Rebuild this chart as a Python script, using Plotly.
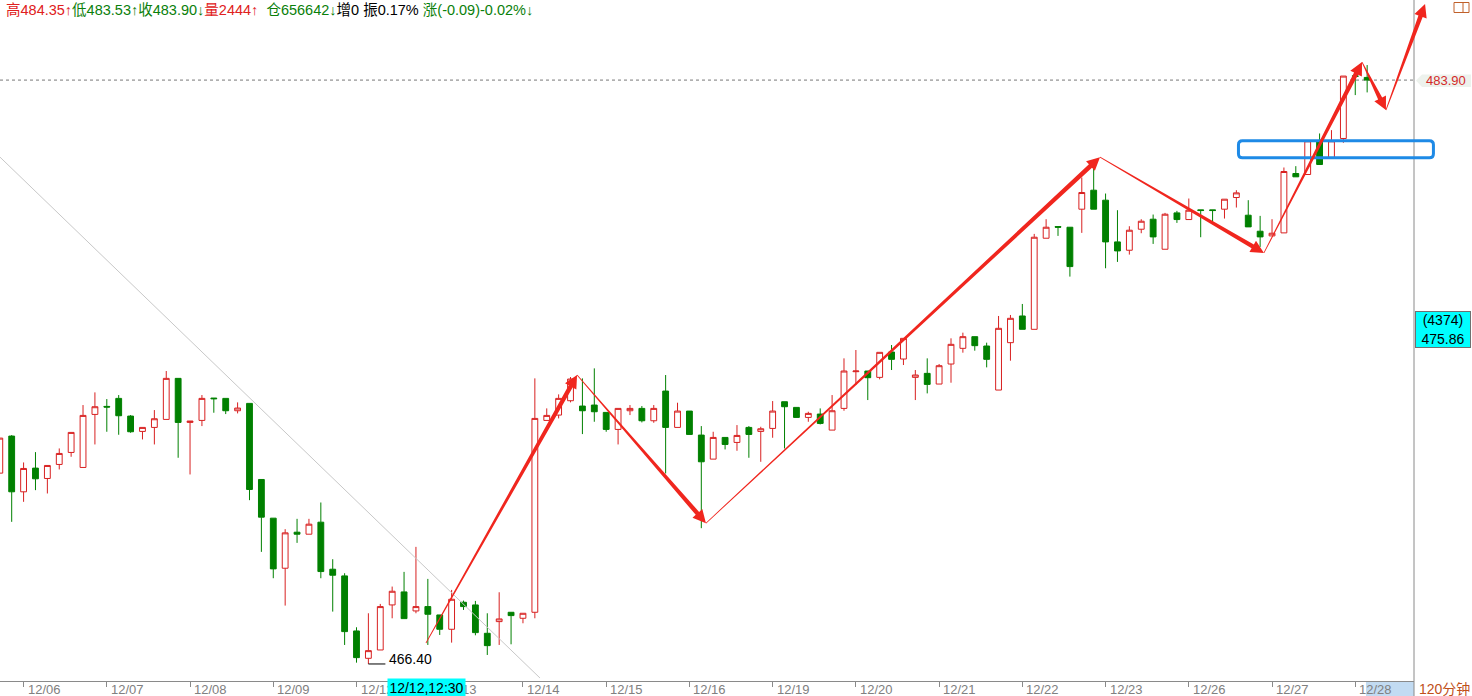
import math
import plotly.graph_objects as go

# ---------------- data ----------------
opens = [472.12, 473.23, 471.56, 472.27, 471.96, 472.38, 472.74, 472.29, 473.88, 474.12,
         474.36, 473.83, 473.37, 473.49, 473.73, 474.96, 473.64, 473.70, 474.37, 474.36,
         473.99, 474.21, 471.93, 470.77, 469.27, 470.35, 470.29, 470.65, 469.24, 469.04,
         467.39, 466.57, 466.82, 468.17, 468.56, 467.99, 468.12, 467.87, 467.44, 468.25,
         468.17, 467.32, 467.67, 467.95, 467.77, 467.95, 473.70, 473.86, 474.29, 474.13,
         474.16, 473.94, 473.43, 473.99, 474.06, 473.69, 474.58, 473.49, 473.98, 473.26,
         472.54, 473.19, 473.04, 473.49, 473.37, 473.46, 474.26, 474.09, 473.79, 473.89,
         473.41, 474.06, 475.16, 475.18, 474.99, 475.75, 475.54, 474.99, 475.11, 474.79,
         475.39, 475.86, 476.21, 475.93, 474.61, 476.03, 476.83, 476.43, 479.16, 479.51,
         479.49, 480.03, 480.60, 480.30, 479.05, 478.80, 479.43, 479.73, 478.83, 479.92,
         479.72, 480.01, 480.01, 480.03, 480.38, 479.85, 479.37, 479.23, 479.32, 481.10,
         481.07, 482.08, 481.58, 482.15, 484.03, 483.98]
highs = [473.17, 473.26, 472.44, 472.75, 472.35, 472.86, 473.34, 474.16, 474.54, 474.34,
         474.46, 473.86, 473.49, 474.01, 475.18, 474.96, 473.68, 474.46, 474.37, 474.36,
         474.24, 474.21, 471.93, 470.77, 470.44, 470.75, 470.75, 471.24, 469.54, 469.12,
         467.50, 467.92, 468.20, 468.72, 469.16, 469.91, 468.95, 467.87, 468.62, 468.30,
         468.29, 467.92, 468.55, 467.95, 467.92, 474.96, 474.06, 474.48, 475.00, 474.96,
         475.26, 473.94, 474.06, 474.16, 474.13, 474.16, 475.06, 474.23, 473.98, 473.53,
         473.36, 473.19, 473.56, 473.53, 473.51, 474.28, 474.26, 474.09, 473.96, 474.06,
         474.46, 475.56, 475.81, 475.18, 475.74, 475.96, 476.16, 475.21, 475.56, 475.39,
         476.16, 476.33, 476.21, 476.03, 476.83, 476.86, 477.19, 479.29, 479.73, 479.51,
         479.49, 480.98, 481.45, 480.50, 480.00, 479.52, 479.73, 479.87, 479.92, 479.98,
         480.35, 480.01, 480.01, 480.33, 480.60, 480.30, 479.83, 479.73, 481.28, 481.32,
         482.10, 482.30, 482.40, 484.02, 484.03, 484.35]
lows = [472.12, 470.66, 471.26, 471.61, 471.51, 472.23, 472.61, 472.29, 472.98, 473.36,
        473.27, 473.33, 473.13, 472.98, 473.73, 472.58, 472.08, 473.53, 473.93, 473.89,
        473.91, 471.31, 469.76, 468.97, 468.15, 470.03, 470.29, 468.97, 467.97, 466.97,
        466.44, 466.40, 466.82, 467.77, 467.76, 467.92, 466.97, 467.27, 467.04, 468.02,
        467.26, 466.67, 466.97, 466.99, 467.62, 467.77, 473.70, 473.76, 474.24, 473.29,
        473.66, 473.36, 472.98, 473.86, 473.64, 473.63, 472.11, 473.49, 473.28, 470.47,
        472.54, 472.83, 472.79, 472.58, 472.46, 473.18, 472.86, 473.79, 473.66, 473.58,
        473.41, 473.99, 474.76, 474.31, 474.93, 475.21, 475.36, 474.31, 474.51, 474.79,
        474.83, 475.73, 475.79, 475.29, 474.61, 475.49, 476.43, 476.43, 479.16, 479.23,
        478.01, 479.32, 480.03, 478.26, 478.45, 478.67, 479.31, 478.99, 478.83, 479.62,
        479.72, 479.19, 479.65, 479.75, 480.08, 479.50, 478.90, 479.23, 479.32, 481.00,
        481.07, 481.37, 481.58, 482.02, 483.45, 483.53]
closes = [473.17, 471.56, 472.26, 471.95, 472.35, 472.71, 473.34, 473.85, 474.11, 474.10,
          473.84, 473.36, 473.49, 473.75, 474.96, 473.64, 473.68, 474.36, 474.35, 473.99,
          474.07, 471.63, 470.80, 469.25, 470.33, 470.29, 470.59, 469.17, 469.06, 467.37,
          466.59, 466.80, 468.12, 468.58, 467.76, 468.12, 467.89, 467.44, 468.34, 468.12,
          467.34, 466.95, 467.75, 467.85, 467.92, 473.76, 473.85, 474.36, 474.94, 473.99,
          473.96, 473.43, 474.06, 474.06, 473.69, 474.06, 473.49, 473.98, 473.28, 472.46,
          473.19, 472.98, 473.25, 473.28, 473.45, 473.98, 474.11, 473.79, 473.91, 473.61,
          473.99, 475.18, 475.18, 474.98, 475.74, 475.53, 476.16, 475.06, 474.78, 475.34,
          475.98, 476.21, 475.94, 475.53, 476.46, 476.76, 476.43, 479.19, 479.49, 479.49,
          478.31, 480.53, 480.03, 479.05, 478.78, 479.40, 479.67, 479.20, 479.88, 479.72,
          480.00, 479.99, 479.99, 480.33, 480.52, 479.50, 479.20, 479.31, 481.16, 481.00,
          482.08, 481.37, 482.08, 484.02, 484.01, 483.90]
bar_index = list(range(len(closes)))

day_labels = ["12/06", "12/07", "12/08", "12/09", "12/12", "12/13", "12/14", "12/15", "12/16",
              "12/19", "12/20", "12/21", "12/22", "12/23", "12/26", "12/27", "12/28"]
day_first_bar = [2, 9, 16, 23, 30, 37, 44, 51, 58, 65, 72, 79, 86, 93, 100, 107, 114]

header_high, header_low, header_close = "484.35", "483.53", "483.90"
header_vol, header_oi, header_inc = "2444", "656642", "0"
header_amp, header_chg = "0.17%", "(-0.09)-0.02%"
last_price = 483.90
low_bar, low_price = 31, 466.40
cursor_time = "12/12,12:30"
cursor_count, cursor_price = "(4374)", "475.86"
period_label = "120分钟"

# hand-drawn zigzag arrows (bar index, price) of their vertices
zig_bar = [35.84, 48.55, 59.39, 92.53, 106.32, 114.57, 116.58, 119.87]
zig_price = [467.03, 475.06, 470.62, 481.59, 478.72, 484.44, 483.00, 486.18]
# thin gray trend line (bar index, price)
trend_bar = [0.02, 45.43]
trend_price = [481.59, 465.98]
# blue box (bar index range, price range)
box_bar = [104.05, 120.70]
box_price = [482.13, 481.53]

# ---------------- layout geometry ----------------
W, H = 1472, 696
PW, PH = 1414, 681          # plot area size (left=0, top=0)
X_RANGE = [0.0168, 118.94]
Y_RANGE = [465.89, 486.30]

RED = "#d82020"
GREEN = "#008000"
ARROW = "#f0261e"
FONT = "Liberation Sans, Arial, Noto Sans CJK SC, sans-serif"


def to_px(i, p):
    x = (i - X_RANGE[0]) / (X_RANGE[1] - X_RANGE[0]) * PW
    y = (Y_RANGE[1] - p) / (Y_RANGE[1] - Y_RANGE[0]) * PH
    return x, y


def pp(x, y):
    """pixel -> paper"""
    return x / PW, (PH - y) / PH


def path_from_px(points, close=True):
    parts = []
    for k, (x, y) in enumerate(points):
        a, b = pp(x, y)
        parts.append(("M" if k == 0 else "L") + f"{a:.6f},{b:.6f}")
    return " ".join(parts) + (" Z" if close else "")


def tapered_arrow(x0, y0, x1, y1, w0=0.8, w1=4.5, hl=13.0, hw=6.5):
    dx, dy = x1 - x0, y1 - y0
    L = math.hypot(dx, dy)
    ux, uy = dx / L, dy / L
    nx, ny = -uy, ux
    bx, by = x1 - ux * hl, y1 - uy * hl
    pts = [(x0 + nx * w0 / 2, y0 + ny * w0 / 2),
           (bx + nx * w1 / 2, by + ny * w1 / 2),
           (bx + nx * hw, by + ny * hw),
           (x1, y1),
           (bx - nx * hw, by - ny * hw),
           (bx - nx * w1 / 2, by - ny * w1 / 2),
           (x0 - nx * w0 / 2, y0 - ny * w0 / 2)]
    return path_from_px(pts)


fig = go.Figure()
fig.add_trace(go.Candlestick(
    x=bar_index, open=opens, high=highs, low=lows, close=closes,
    increasing=dict(line=dict(color=RED, width=1), fillcolor="white"),
    decreasing=dict(line=dict(color=GREEN, width=1), fillcolor=GREEN),
    whiskerwidth=0, hoverinfo="skip", showlegend=False,
))

shapes = []
annotations = []

# last price dotted line
shapes.append(dict(type="line", xref="paper", yref="y", x0=0, x1=1, y0=last_price, y1=last_price,
                   line=dict(color="#777777", width=1, dash="dot"), layer="below"))

# gray trend line
tx0, ty0 = to_px(trend_bar[0], trend_price[0])
tx1, ty1 = to_px(trend_bar[1], trend_price[1])
shapes.append(dict(type="line", xref="paper", yref="paper",
                   x0=pp(tx0, ty0)[0], y0=pp(tx0, ty0)[1], x1=pp(tx1, ty1)[0], y1=pp(tx1, ty1)[1],
                   line=dict(color="#c8c8c8", width=1)))

# right axis line (down to the bottom of the window)
shapes.append(dict(type="line", xref="paper", yref="paper", x0=1, x1=1, y0=(PH - H) / PH, y1=1,
                   line=dict(color="#8a8a8a", width=1)))

# light blue patch behind the last date label
bx0, by0 = pp(1366, 681)
bx1, by1 = pp(1414, 696)
shapes.append(dict(type="rect", xref="paper", yref="paper", x0=bx0, x1=bx1, y0=by1, y1=by0,
                   line=dict(width=0), fillcolor="#c2dbf2", layer="below"))

# low marker line
lx, ly = to_px(low_bar, low_price)
shapes.append(dict(type="line", xref="paper", yref="paper",
                   x0=pp(lx, ly)[0], x1=pp(lx + 17, ly)[0], y0=pp(lx, ly)[1], y1=pp(lx, ly)[1],
                   line=dict(color="#000000", width=1)))

# blue rounded box
rx0, ry0 = to_px(box_bar[0], box_price[0])
rx1, ry1 = to_px(box_bar[1], box_price[1])
rx0, ry0, rx1, ry1 = rx0 + 1.5, ry0 + 1.5, rx1 - 1.5, ry1 - 1.5
r = 4.0
def P(x, y):
    a, b = pp(x, y)
    return f"{a:.6f},{b:.6f}"
rpath = (f"M{P(rx0 + r, ry0)} L{P(rx1 - r, ry0)} Q{P(rx1, ry0)} {P(rx1, ry0 + r)} "
         f"L{P(rx1, ry1 - r)} Q{P(rx1, ry1)} {P(rx1 - r, ry1)} L{P(rx0 + r, ry1)} "
         f"Q{P(rx0, ry1)} {P(rx0, ry1 - r)} L{P(rx0, ry0 + r)} Q{P(rx0, ry0)} {P(rx0 + r, ry0)} Z")
shapes.append(dict(type="path", xref="paper", yref="paper", path=rpath,
                   line=dict(color="#1e8ae6", width=3), fillcolor="rgba(0,0,0,0)"))

# red zigzag arrows
for k in range(len(zig_bar) - 1):
    x0, y0 = to_px(zig_bar[k], zig_price[k])
    x1, y1 = to_px(zig_bar[k + 1], zig_price[k + 1])
    shapes.append(dict(type="path", xref="paper", yref="paper",
                       path=tapered_arrow(x0, y0, x1, y1),
                       line=dict(width=0), fillcolor=ARROW))

# 483.90 price tag background
tag = [(1416, 80.5), (1422, 74.5), (1471, 74.5), (1471, 87), (1422, 87)]
shapes.append(dict(type="path", xref="paper", yref="paper", path=path_from_px(tag),
                   line=dict(width=0), fillcolor="#edf2ed"))

# top-right small icon
ix0, iy0 = pp(1454, 2.5)
ix1, iy1 = pp(1469, 12.5)
shapes.append(dict(type="rect", xref="paper", yref="paper", x0=ix0, x1=ix1, y0=iy1, y1=iy0,
                   line=dict(color="#c0602a", width=1), fillcolor="rgba(0,0,0,0)"))
shapes.append(dict(type="line", xref="paper", yref="paper", x0=pp(1463, 0)[0], x1=pp(1463, 0)[0],
                   y0=iy1, y1=iy0, line=dict(color="#c0602a", width=1)))

# date labels
for lab, b in zip(day_labels, day_first_bar):
    annotations.append(dict(x=b, xref="x", y=pp(0, 689)[1], yref="paper", text=lab,
                            showarrow=False, xanchor="left", yanchor="middle", xshift=2,
                            font=dict(family=FONT, size=13, color="#808080")))

# cursor time label
cx, _ = pp(426.5, 0)
annotations.append(dict(x=cx, xref="paper", y=pp(0, 687.5)[1], yref="paper", text=cursor_time,
                        showarrow=False, xanchor="center", yanchor="middle",
                        bgcolor="#00ffff", width=77, height=17, borderpad=0,
                        font=dict(family=FONT, size=14, color="#000000")))

# period label
annotations.append(dict(x=pp(1417, 0)[0], xref="paper", y=pp(0, 688.5)[1], yref="paper",
                        text=period_label, showarrow=False, xanchor="left", yanchor="middle",
                        font=dict(family=FONT, size=14, color="#c0501a")))

# last price tag text
annotations.append(dict(x=pp(1446, 0)[0], xref="paper", y=last_price, yref="y",
                        text=f"{last_price:.2f}", showarrow=False, xanchor="center", yanchor="middle",
                        font=dict(family=FONT, size=13, color="#d42a2a")))

# cursor price box
annotations.append(dict(x=pp(1443, 0)[0], xref="paper", y=pp(0, 329.5)[1], yref="paper",
                        text=f"{cursor_count}<br>{cursor_price}", showarrow=False,
                        xanchor="center", yanchor="middle", bgcolor="#00ffff",
                        bordercolor="#707070", borderwidth=1, borderpad=0, width=54, height=35,
                        font=dict(family=FONT, size=14, color="#000000")))

# low label
annotations.append(dict(x=pp(lx + 19, 0)[0], xref="paper", y=pp(0, ly - 5)[1], yref="paper",
                        text=f"{low_price:.2f}", showarrow=False, xanchor="left", yanchor="middle",
                        font=dict(family=FONT, size=14, color="#000000")))

# header line
HR, HG, HK = "#e02020", "#0a800a", "#000000"
header = (f"<span style='color:{HR}'>高{header_high}↑</span>"
          f"<span style='color:{HG}'>低{header_low}↑</span>"
          f"<span style='color:{HG}'>收{header_close}↓</span>"
          f"<span style='color:{HR}'>量{header_vol}↑</span>&nbsp;&nbsp;"
          f"<span style='color:{HG}'>仓{header_oi}↓</span>"
          f"<span style='color:{HK}'>增{header_inc}&nbsp;振{header_amp}</span>&nbsp;"
          f"<span style='color:{HG}'>涨{header_chg}↓</span>")
annotations.append(dict(x=pp(4, 0)[0], xref="paper", y=pp(0, 10)[1], yref="paper", text=header,
                        showarrow=False, xanchor="left", yanchor="middle",
                        font=dict(family=FONT, size=14.5, color="#000000")))

fig.update_layout(
    width=W, height=H,
    margin=dict(l=0, r=W - PW, t=0, b=H - PH, pad=0),
    paper_bgcolor="white", plot_bgcolor="white",
    showlegend=False, hovermode=False,
    boxgap=0.3,
    xaxis=dict(range=X_RANGE, rangeslider=dict(visible=False), showgrid=False, zeroline=False,
               showline=True, linecolor="#8a8a8a", linewidth=1,
               tickmode="array", tickvals=day_first_bar, ticktext=[""] * len(day_first_bar),
               ticks="outside", ticklen=5, tickcolor="#8a8a8a", tickwidth=1, showticklabels=False),
    yaxis=dict(range=Y_RANGE, showgrid=False, zeroline=False, showticklabels=False,
               showline=False, ticks=""),
    shapes=shapes, annotations=annotations,
)

fig.write_html("out.html", config={"displayModeBar": False},
               post_script="document.body.style.margin='0px';document.body.style.overflow='hidden';")
